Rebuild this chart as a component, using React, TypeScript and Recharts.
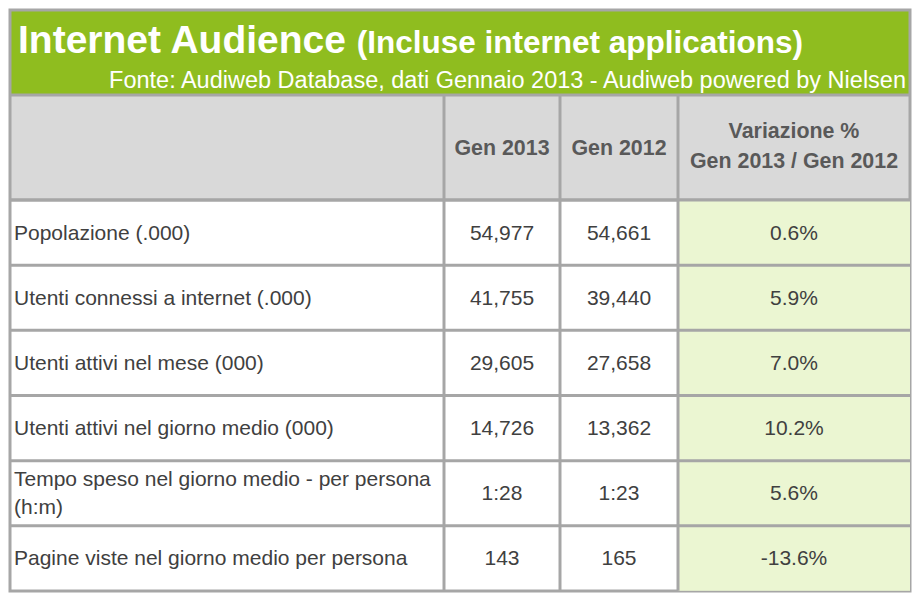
import { BarChart, Bar, XAxis, YAxis, Customized } from 'recharts'

const rowLabels = [
  'Popolazione (.000)',
  'Utenti connessi a internet (.000)',
  'Utenti attivi nel mese (000)',
  'Utenti attivi nel giorno medio (000)',
  'Tempo speso nel giorno medio - per persona (h:m)',
  'Pagine viste nel giorno medio per persona',
]
const gen2013 = ['54,977', '41,755', '29,605', '14,726', '1:28', '143']
const gen2012 = ['54,661', '39,440', '27,658', '13,362', '1:23', '165']
const variazione = [0.6, 5.9, 7.0, 10.2, 5.6, -13.6]

const headers = ['Gen 2013', 'Gen 2012']
const headerVar = ['Variazione %', 'Gen 2013 / Gen 2012']

const rows = rowLabels.map((label, i) => ({
  label,
  a: gen2013[i],
  b: gen2012[i],
  v: variazione[i],
}))

// layout
const W = 917
const H = 598
const LEFT = 10
const RIGHT = 910
const COLS = [LEFT, 444, 560, 678, RIGHT]
const TITLE_TOP = 10
const HEAD_TOP = 95
const BODY_TOP = 200
const BOTTOM = 591
const BORDER = '#a6a6a6'
const GREEN = '#8fbd1f'
const FONT = '"Liberation Sans", Arial, sans-serif'

function wrap(text: string, max: number) {
  const words = text.split(' ')
  const lines: string[] = []
  let cur = ''
  words.forEach(w => {
    const next = cur ? cur + ' ' + w : w
    if (next.length > max && cur) {
      lines.push(cur)
      cur = w
    } else cur = next
  })
  if (cur) lines.push(cur)
  return lines
}

function RowShape(props: any) {
  const { y, height, payload } = props
  const cy = y + height / 2
  const lines = wrap(payload.label, 43)
  const lh = 28
  const txt = { fontFamily: FONT, fontSize: 21, fill: '#404040' }
  return (
    <g>
      <rect x={COLS[3]} y={y} width={COLS[4] - COLS[3]} height={height} fill="#ebf6d2" />
      {lines.map((l, k) => (
        <text key={k} x={14} y={cy + 7 + (k - (lines.length - 1) / 2) * lh} {...txt}>
          {l}
        </text>
      ))}
      <text x={(COLS[1] + COLS[2]) / 2} y={cy + 7} textAnchor="middle" {...txt}>{payload.a}</text>
      <text x={(COLS[2] + COLS[3]) / 2} y={cy + 7} textAnchor="middle" {...txt}>{payload.b}</text>
      <text x={(COLS[3] + COLS[4]) / 2} y={cy + 7} textAnchor="middle" {...txt}>
        {payload.v.toFixed(1) + '%'}
      </text>
      <line x1={LEFT} x2={RIGHT} y1={y} y2={y} stroke={BORDER} strokeWidth={3} />
      {COLS.slice(1, 4).map(c => (
        <line key={c} x1={c} x2={c} y1={y} y2={y + height} stroke={BORDER} strokeWidth={3} />
      ))}
    </g>
  )
}

function Frame() {
  const head = { fontFamily: FONT, fontSize: 21.4, fontWeight: 700, fill: '#595959' }
  const headCy = (HEAD_TOP + BODY_TOP) / 2
  return (
    <g>
      <rect x={LEFT} y={TITLE_TOP} width={RIGHT - LEFT} height={HEAD_TOP - TITLE_TOP} fill={GREEN} />
      <rect x={LEFT} y={HEAD_TOP} width={RIGHT - LEFT} height={BODY_TOP - HEAD_TOP} fill="#d9d9d9" />
      <text x={18} y={53} fontFamily={FONT} fontWeight={700} fill="#fff">
        <tspan fontSize={39}>Internet Audience </tspan>
        <tspan fontSize={31.5}>(Incluse internet applications)</tspan>
      </text>
      <text x={906} y={88} textAnchor="end" fontFamily={FONT} fontSize={23.5} fill="#fff">
        Fonte: Audiweb Database, dati Gennaio 2013 - Audiweb powered by Nielsen
      </text>
      {headers.map((h, i) => (
        <text key={h} x={(COLS[i + 1] + COLS[i + 2]) / 2} y={headCy + 7} textAnchor="middle" {...head}>
          {h}
        </text>
      ))}
      {headerVar.map((h, k) => (
        <text key={h} x={(COLS[3] + COLS[4]) / 2} y={headCy - 10 + k * 30} textAnchor="middle" {...head}>
          {h}
        </text>
      ))}
      {COLS.slice(1, 4).map(c => (
        <line key={c} x1={c} x2={c} y1={HEAD_TOP} y2={BODY_TOP} stroke={BORDER} strokeWidth={3} />
      ))}
      <line x1={LEFT} x2={RIGHT} y1={HEAD_TOP} y2={HEAD_TOP} stroke={BORDER} strokeWidth={3} />
      <line x1={LEFT} x2={RIGHT} y1={BODY_TOP} y2={BODY_TOP} stroke={BORDER} strokeWidth={3} />
      <rect
        x={LEFT}
        y={TITLE_TOP}
        width={RIGHT - LEFT}
        height={BOTTOM - TITLE_TOP}
        fill="none"
        stroke={BORDER}
        strokeWidth={3}
      />
    </g>
  )
}

export default function App() {
  return (
    <div style={{ position: 'absolute', left: 0, top: 0, width: W, height: H, background: '#fff' }}>
      <BarChart
        width={W}
        height={H}
        data={rows}
        layout="vertical"
        margin={{ top: BODY_TOP, right: W - RIGHT, bottom: H - BOTTOM, left: LEFT }}
        barCategoryGap={0}
      >
        <XAxis type="number" domain={[0, 1]} hide />
        <YAxis type="category" dataKey="label" hide />
        <Bar dataKey={() => 1} shape={RowShape} isAnimationActive={false} />
        <Customized component={<Frame />} />
      </BarChart>
    </div>
  )
}
